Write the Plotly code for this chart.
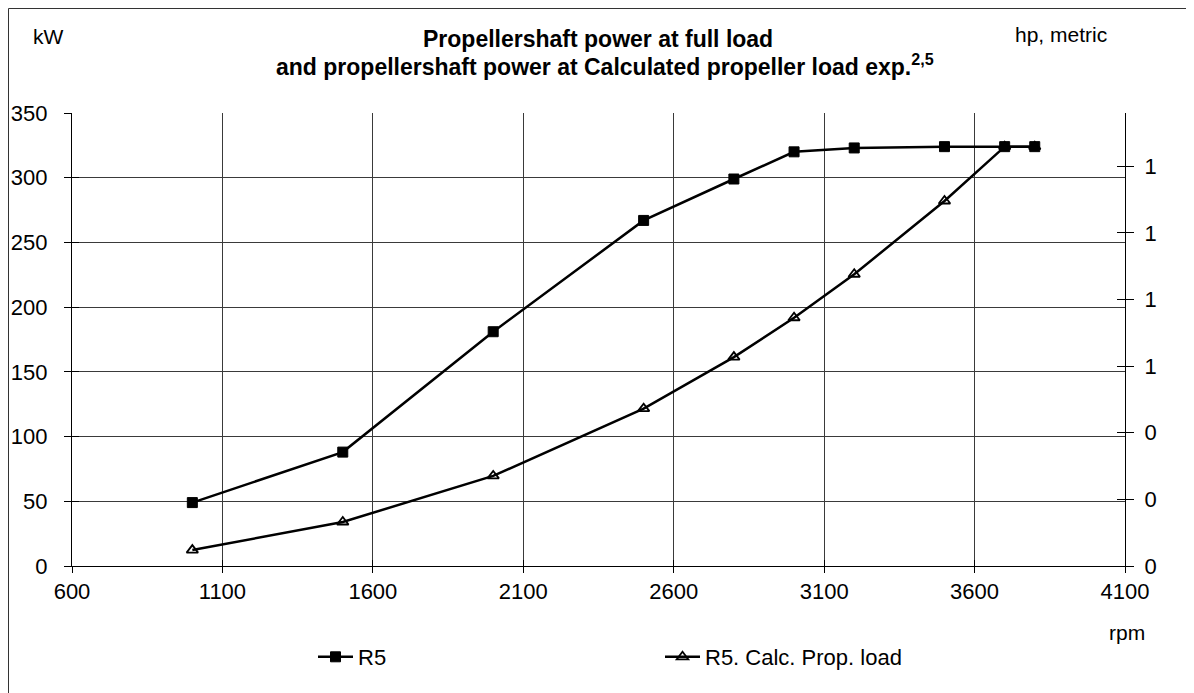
import plotly.graph_objects as go

rpm = [1000, 1500, 2000, 2500, 2800, 3000, 3200, 3500, 3700, 3800]
r5_kw = [49, 88, 181, 267, 299, 320, 323, 324, 324, 324]
calc_kw = [12.3, 34, 69.6, 121.6, 161.4, 191.8, 225.4, 282, 324, 324]

x_ticks = [600, 1100, 1600, 2100, 2600, 3100, 3600, 4100]
y_ticks = [0, 50, 100, 150, 200, 250, 300, 350]
hp_ticks = [0, 70, 140, 210, 280, 350, 420]
hp_labels = ["0", "0", "0", "1", "1", "1", "1"]
KW_PER_HP = 0.7355

FONT = "Liberation Sans, Arial, sans-serif"
NB = "\u00a0"

# page -> paper helpers (plot area occupies page x 72..1125, y 113..566)
def px(x):
    return (x - 72) / 1053

def py(y):
    return (566 - y) / 453

fig = go.Figure()
fig.add_trace(go.Scatter(
    x=rpm, y=r5_kw, name="R5", mode="lines+markers",
    line=dict(color="black", width=2.5),
    marker=dict(symbol="square", size=10, color="black", line=dict(color="black", width=1)),
))
fig.add_trace(go.Scatter(
    x=rpm, y=calc_kw, name="R5. Calc. Prop. load", mode="lines+markers",
    line=dict(color="black", width=2.5),
    marker=dict(symbol="triangle-up-open", size=10, color="black", line=dict(color="black", width=1.8)),
))
# invisible helpers for extra axes (cross ticks / right axis)
for ax in [dict(yaxis="y2"), dict(yaxis="y3"), dict(yaxis="y4"), dict(xaxis="x2")]:
    fig.add_trace(go.Scatter(x=[600], y=[0], showlegend=False, hoverinfo="skip",
                             mode="markers", marker=dict(opacity=0), **ax))

hp_max = 350 / KW_PER_HP

fig.update_layout(
    width=1194, height=693,
    paper_bgcolor="white", plot_bgcolor="white",
    margin=dict(l=64, r=77, t=105, b=135, autoexpand=False),
    font=dict(family=FONT, color="black", size=21),
    xaxis=dict(
        range=[600, 4100], tickvals=x_ticks, ticks="outside", ticklen=6, tickcolor="black",
        showline=True, linecolor="black", linewidth=1, automargin=False,
        showgrid=True, gridcolor="#3a3a3a", gridwidth=1, zeroline=False,
        tickfont=dict(size=22),
    ),
    xaxis2=dict(
        range=[600, 4100], tickvals=x_ticks, ticks="inside", ticklen=6, tickcolor="black",
        showticklabels=False, showgrid=False, zeroline=False, overlaying="x", side="bottom",
        showline=False, automargin=False,
    ),
    yaxis=dict(
        range=[0, 350], tickvals=y_ticks, ticktext=[f"{v}{NB}{NB}" for v in y_ticks],
        ticks="outside", ticklen=7, tickcolor="black", automargin=False,
        showline=True, linecolor="black", linewidth=1,
        showgrid=True, gridcolor="#3a3a3a", gridwidth=1, zeroline=False,
        tickfont=dict(size=22),
    ),
    yaxis3=dict(
        range=[0, 350], tickvals=y_ticks, ticks="inside", ticklen=7, tickcolor="black",
        showticklabels=False, showgrid=False, zeroline=False, overlaying="y", side="left",
        showline=False, automargin=False,
    ),
    yaxis2=dict(
        range=[0, hp_max], tickvals=hp_ticks, ticktext=[f"{NB}{t}" for t in hp_labels],
        ticks="outside", ticklen=8, automargin=False,
        tickcolor="black", showline=True, linecolor="black", linewidth=1,
        showgrid=False, zeroline=False, overlaying="y", side="right",
        tickfont=dict(size=22),
    ),
    yaxis4=dict(
        range=[0, hp_max], tickvals=hp_ticks, ticks="inside", ticklen=8, tickcolor="black",
        showticklabels=False, showgrid=False, zeroline=False, overlaying="y", side="right",
        showline=False, automargin=False,
    ),
    legend=dict(
        orientation="h", x=px(313), xanchor="left", y=-(657 - 566) / 453, yanchor="middle",
        font=dict(size=22, family=FONT), entrywidth=297, entrywidthmode="pixels",
        itemwidth=35, bgcolor="rgba(0,0,0,0)", tracegroupgap=0,
    ),
    showlegend=True,
)

fig.add_annotation(text="<b>Propellershaft power at full load</b>", xref="paper", yref="paper",
                   x=px(598), y=1 + (113 - 39) / 453, showarrow=False,
                   font=dict(size=23), xanchor="center", yanchor="middle")
fig.add_annotation(text="<b>and propellershaft power at Calculated propeller load exp.<sup>2,5</sup></b>",
                   xref="paper", yref="paper",
                   x=px(605), y=1 + (113 - 65) / 453, showarrow=False,
                   font=dict(size=23), xanchor="center", yanchor="middle")
fig.add_annotation(text="kW", xref="paper", yref="paper", x=px(48), y=1 + (113 - 36) / 453,
                   showarrow=False, font=dict(size=21), xanchor="center", yanchor="middle")
fig.add_annotation(text="hp, metric", xref="paper", yref="paper", x=px(1061), y=1 + (113 - 34) / 453,
                   showarrow=False, font=dict(size=21), xanchor="center", yanchor="middle")
fig.add_annotation(text="rpm", xref="paper", yref="paper", x=px(1127), y=-(632 - 566) / 453,
                   showarrow=False, font=dict(size=21), xanchor="center", yanchor="middle")

# outer chart border (left and top edges visible)
fig.add_shape(type="rect", xref="paper", yref="paper",
              x0=px(8.5), x1=px(1260), y0=-(760 - 566) / 453, y1=1 + (113 - 8.5) / 453,
              line=dict(color="#333333", width=1), layer="below")

fig.write_html("out.html")
